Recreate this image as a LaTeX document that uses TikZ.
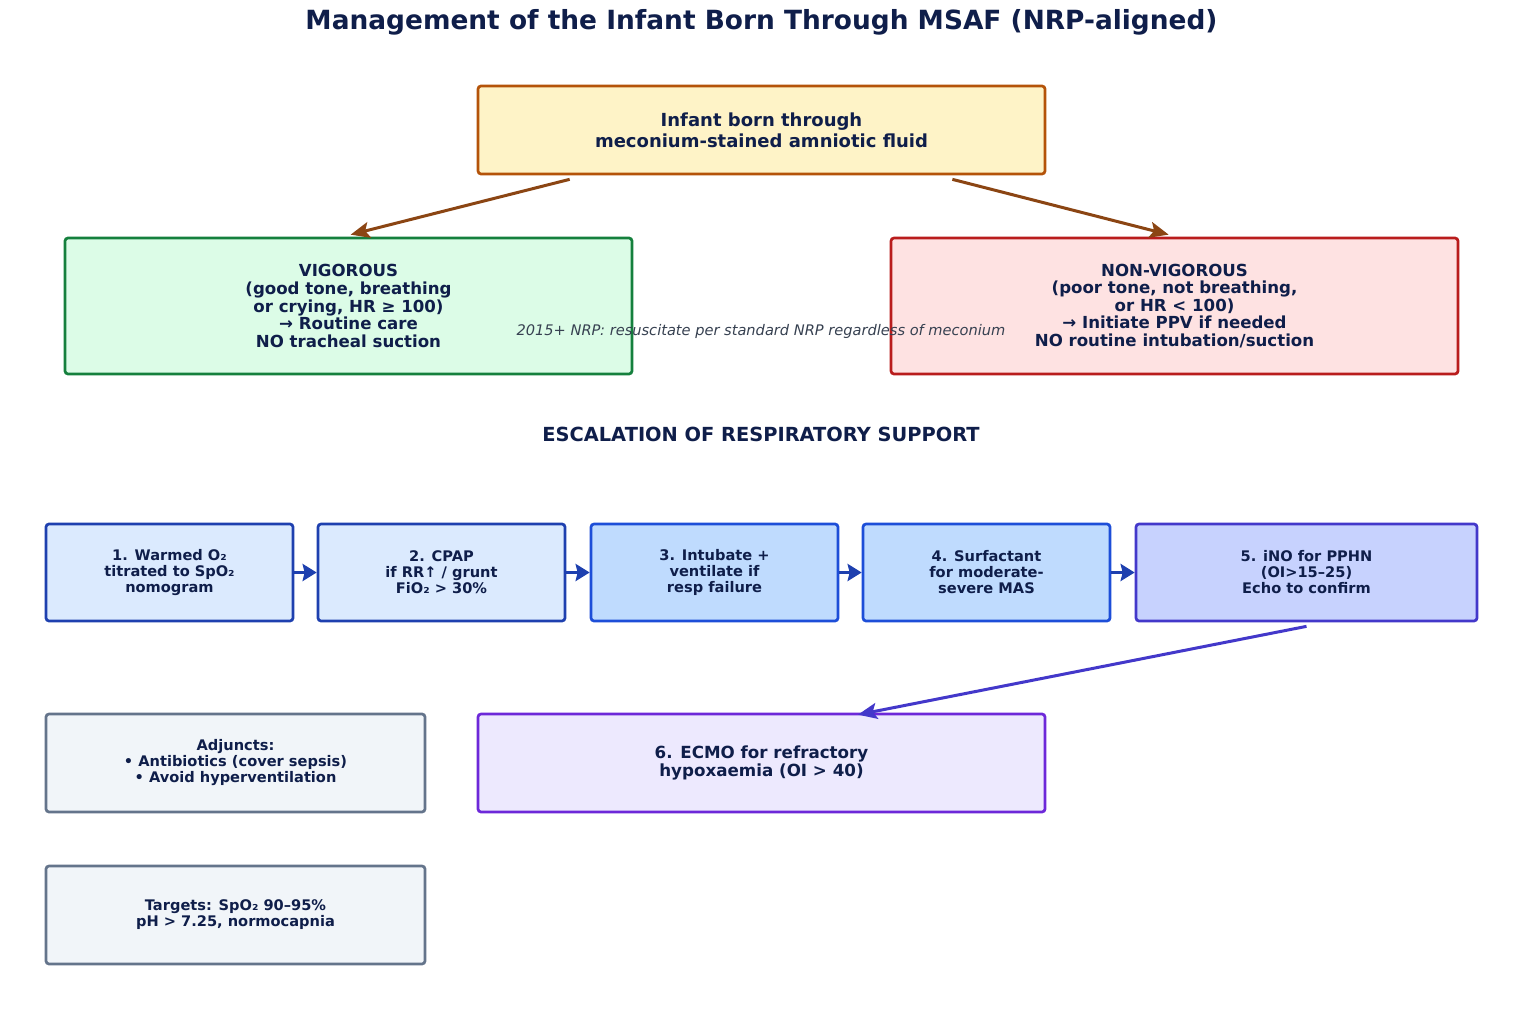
\documentclass[tikz,border=0pt]{standalone}
\usepackage{fontspec}
\setmainfont{DejaVu Sans}
\usetikzlibrary{arrows.meta}
\definecolor{ink}{HTML}{0F1E4A}
\definecolor{notegray}{HTML}{374151}
\definecolor{topfill}{HTML}{FEF3C7}
\definecolor{topdraw}{HTML}{B45309}
\definecolor{vigfill}{HTML}{DCFCE7}
\definecolor{vigdraw}{HTML}{15803D}
\definecolor{nvfill}{HTML}{FEE2E2}
\definecolor{nvdraw}{HTML}{B91C1C}
\definecolor{brownarrow}{HTML}{8B4513}
\definecolor{sAfill}{HTML}{DBEAFE}
\definecolor{sAdraw}{HTML}{1E40AF}
\definecolor{sBfill}{HTML}{BFDBFE}
\definecolor{sBdraw}{HTML}{1D4ED8}
\definecolor{sCfill}{HTML}{C7D2FE}
\definecolor{sCdraw}{HTML}{4338CA}
\definecolor{ecfill}{HTML}{EDE9FE}
\definecolor{ecdraw}{HTML}{6D28D9}
\definecolor{adfill}{HTML}{F1F5F9}
\definecolor{addraw}{HTML}{64748B}
\tikzset{
  box/.style={rectangle, rounded corners=3pt, line width=2.7pt, align=center, text=ink, inner sep=0pt},
  stepbox/.style={box, minimum width=247pt, minimum height=97pt, font=\fontsize{14.6}{16}\selectfont\bfseries},
  conn/.style={line width=3pt, -{Stealth[length=19pt,width=16pt,inset=4pt]}},
  shortconn/.style={line width=3.2pt, -{Stealth[length=14pt,width=17pt,inset=2pt]}},
}
\begin{document}
\begin{tikzpicture}[x=1pt,y=-1pt]
\useasboundingbox (0,0) rectangle (1523,1011);
\fill[white] (0,0) rectangle (1523,1011);

\node[text=ink, font=\fontsize{26.4}{30}\selectfont\bfseries] (title) at (761.5,22) {Management of the Infant Born Through MSAF (NRP-aligned)};

\node[box, draw=topdraw, fill=topfill, minimum width=567pt, minimum height=88pt, font=\fontsize{18}{21}\selectfont\bfseries] (top) at (761.5,130) {Infant born through\\meconium-stained amniotic fluid};

\node[box, draw=vigdraw, fill=vigfill, minimum width=567pt, minimum height=136pt, font=\fontsize{16.6}{17.6}\selectfont\bfseries] (vig) at (348.5,306) {VIGOROUS\\(good tone, breathing\\or crying, HR ≥ 100)\\→ Routine care\\NO tracheal suction};

\node[box, draw=nvdraw, fill=nvfill, minimum width=567pt, minimum height=136pt, font=\fontsize{16.6}{17.6}\selectfont\bfseries] (nonvig) at (1174.5,306) {NON-VIGOROUS\\(poor tone, not breathing,\\or HR < 100)\\→ Initiate PPV if needed\\NO routine intubation/suction};

\node[text=notegray, font=\fontsize{14.6}{16}\selectfont\itshape] (note) at (761,331) {2015+ NRP: resuscitate per standard NRP regardless of meconium};

\draw[conn, brownarrow] ([xshift=93pt,yshift=-4pt]top.south west) -- ([xshift=287pt,yshift=2pt]vig.north west);
\draw[conn, brownarrow] ([xshift=-94pt,yshift=-4pt]top.south east) -- ([xshift=279pt,yshift=2pt]nonvig.north west);

\node[text=ink, font=\fontsize{19.4}{22}\selectfont\bfseries] (esc) at (761,434) {ESCALATION OF RESPIRATORY SUPPORT};

\node[stepbox, draw=sAdraw, fill=sAfill] (s1) at (169.5,572.5) {1. Warmed O₂\\titrated to SpO₂\\nomogram};
\node[stepbox, draw=sAdraw, fill=sAfill] (s2) at (441.5,572.5) {2. CPAP\\if RR↑ / grunt\\FiO₂ > 30\%};
\node[stepbox, draw=sBdraw, fill=sBfill] (s3) at (714.5,572.5) {3. Intubate +\\ventilate if\\resp failure};
\node[stepbox, draw=sBdraw, fill=sBfill] (s4) at (986.5,572.5) {4. Surfactant\\for moderate-\\severe MAS};
\node[stepbox, draw=sCdraw, fill=sCfill, minimum width=341pt] (s5) at (1306.5,572.5) {5. iNO for PPHN\\(OI>15–25)\\Echo to confirm};

\draw[shortconn, sAdraw] (s1.east) -- (s2.west);
\draw[shortconn, sAdraw] (s2.east) -- (s3.west);
\draw[shortconn, sAdraw] (s3.east) -- (s4.west);
\draw[shortconn, sAdraw] (s4.east) -- (s5.west);

\node[box, draw=ecdraw, fill=ecfill, minimum width=567pt, minimum height=98pt, font=\fontsize{16.7}{17.5}\selectfont\bfseries] (ecmo) at (761.5,763) {6. ECMO for refractory\\hypoxaemia (OI > 40)};

\draw[conn, sCdraw] ([yshift=-4pt]s5.south) -- ([xshift=96.5pt,yshift=-2pt]ecmo.north);

\node[box, draw=addraw, fill=adfill, minimum width=379pt, minimum height=98pt, font=\fontsize{14.6}{16}\selectfont\bfseries] (adj) at (235.5,763) {Adjuncts:\\• Antibiotics (cover sepsis)\\• Avoid hyperventilation};

\node[box, draw=addraw, fill=adfill, minimum width=379pt, minimum height=98pt, font=\fontsize{14.6}{16}\selectfont\bfseries] (tgt) at (235.5,915) {Targets: SpO₂ 90–95\%\\pH > 7.25, normocapnia};
\end{tikzpicture}
\end{document}
